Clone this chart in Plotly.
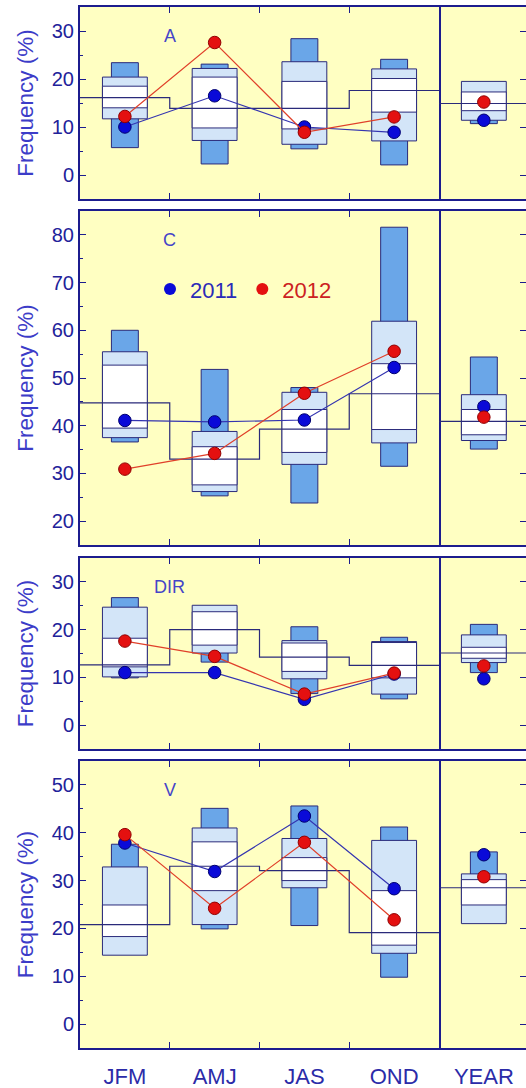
import plotly.graph_objects as go

# ---------------- DATA ----------------
seasons = ["JFM", "AMJ", "JAS", "OND"]
year_label = ["YEAR"]
panel_names = ["A", "C", "DIR", "V"]
years = ["2011", "2012"]

# order in each list: JFM, AMJ, JAS, OND, YEAR
A_outer_lo = [5.7, 2.3, 5.45, 2.1, 10.7]
A_outer_hi = [23.4, 23.1, 28.4, 24.1, 19.0]
A_mid_lo = [11.7, 7.2, 6.4, 7.1, 11.4]
A_mid_hi = [20.4, 22.2, 23.6, 22.1, 19.5]
A_inner_lo = [14.0, 9.8, 9.6, 13.1, 13.4]
A_inner_hi = [18.5, 20.4, 19.5, 20.1, 17.3]
A_mean = [16.1, 13.9, 13.9, 17.6, 14.9]
A_2011 = [10.0, 16.5, 10.0, 8.9, 11.4]
A_2012 = [12.2, 27.6, 8.9, 12.1, 15.2]

C_outer_lo = [36.6, 25.3, 23.8, 31.5, 35.1]
C_outer_hi = [60.0, 51.8, 48.0, 81.6, 54.4]
C_mid_lo = [37.5, 26.2, 31.9, 36.4, 36.9]
C_mid_hi = [55.5, 38.8, 47.0, 61.9, 46.5]
C_inner_lo = [39.5, 27.6, 34.4, 39.2, 38.1]
C_inner_hi = [52.7, 35.6, 43.4, 53.0, 43.4]
C_mean = [44.8, 33.0, 39.3, 46.7, 40.9]
C_2011 = [41.1, 40.8, 41.2, 52.2, 44.0]
C_2012 = [30.9, 34.2, 46.8, 55.6, 41.8]

DIR_outer_lo = [9.9, 13.2, 6.6, 5.5, 11.0]
DIR_outer_hi = [26.7, 24.0, 20.6, 18.4, 21.1]
DIR_mid_lo = [10.1, 15.1, 9.7, 6.5, 13.1]
DIR_mid_hi = [24.7, 25.1, 17.7, 17.5, 18.9]
DIR_inner_lo = [12.2, 16.75, 11.25, 9.9, 14.0]
DIR_inner_hi = [18.2, 23.75, 17.2, 17.3, 16.3]
DIR_mean = [12.6, 20.0, 14.25, 12.5, 15.1]
DIR_2011 = [11.0, 11.0, 5.4, 10.7, 9.7]
DIR_2012 = [17.6, 14.4, 6.5, 10.9, 12.4]

V_outer_lo = [15.0, 19.9, 20.6, 9.8, 22.0]
V_outer_hi = [37.6, 45.1, 45.6, 41.2, 36.0]
V_mid_lo = [14.4, 20.8, 28.5, 14.8, 21.0]
V_mid_hi = [32.85, 41.0, 38.8, 38.4, 31.4]
V_inner_lo = [18.3, 27.9, 30.0, 16.5, 24.9]
V_inner_hi = [24.9, 38.1, 34.8, 27.9, 30.2]
V_mean = [20.8, 33.0, 32.1, 19.1, 28.5]
V_2011 = [37.85, 31.9, 43.5, 28.3, 35.4]
V_2012 = [39.6, 24.2, 38.0, 21.8, 30.8]

y_ranges = [[-5, 35], [15, 85], [-5, 35], [-5, 55]]

# ---------------- STYLE ----------------
FONT = "Liberation Sans, Arial, sans-serif"
NAVY = "#1c1c8e"
EDGE = "#2a2a7a"
BG = "#ffffc2"
DARK = "#6aa6e8"
LIGHT = "#d3e5f8"
WHITE = "#ffffff"
BLUE = "#0a0ad8"
RED = "#e41010"
BLUE_LINE = "#3434b0"
RED_LINE = "#e0402a"
TICK_COL = "#22229a"
TITLE_COL = "#3c3cc8"

panels = {
    "A": (A_outer_lo, A_outer_hi, A_mid_lo, A_mid_hi, A_inner_lo, A_inner_hi, A_mean, A_2011, A_2012),
    "C": (C_outer_lo, C_outer_hi, C_mid_lo, C_mid_hi, C_inner_lo, C_inner_hi, C_mean, C_2011, C_2012),
    "DIR": (DIR_outer_lo, DIR_outer_hi, DIR_mid_lo, DIR_mid_hi, DIR_inner_lo, DIR_inner_hi, DIR_mean, DIR_2011, DIR_2012),
    "V": (V_outer_lo, V_outer_hi, V_mid_lo, V_mid_hi, V_inner_lo, V_inner_hi, V_mean, V_2011, V_2012),
}

W, H = 526, 1088
ML, MR, MT, MB = 80, 0, 7, 40
PH = H - MT - MB
PW = W - ML - MR
row_px = [(7, 199), (211, 545), (558, 749), (761, 1048)]
split = 359 / PW

fig = go.Figure()
layout = dict(
    width=W, height=H, margin=dict(l=ML, r=MR, t=MT, b=MB),
    paper_bgcolor="white", plot_bgcolor=BG, barmode="overlay",
    font=dict(family=FONT, color=TICK_COL), hovermode=False,
    showlegend=True,
    legend=dict(orientation="h", x=(150 - ML) / PW, y=(H - MB - 289.3) / PH,
                xanchor="left", yanchor="middle", bgcolor="rgba(0,0,0,0)",
                font=dict(size=22, family=FONT), tracegroupgap=0),
)
annotations = []

n_seas = len(seasons)
for i, name in enumerate(panel_names):
    olo, ohi, mlo, mhi, ilo, ihi, mean, y11, y12 = panels[name]
    top, bot = row_px[i]
    ydom = [(H - MB - bot) / PH, (H - MB - top) / PH]
    kl, kr = 2 * i + 1, 2 * i + 2
    xl = "x" if kl == 1 else f"x{kl}"
    yl = "y" if kl == 1 else f"y{kl}"
    xr, yr = f"x{kr}", f"y{kr}"
    last = i == len(panel_names) - 1

    for side, xa, ya, sl, cats in (("L", xl, yl, slice(0, n_seas), seasons),
                                   ("R", xr, yr, slice(n_seas, n_seas + 1), year_label)):
        xs = list(range(1, len(cats) + 1))
        for lo, hi, w, col in ((olo, ohi, 0.3, DARK), (mlo, mhi, 0.5, LIGHT), (ilo, ihi, 0.5, WHITE)):
            l_, h_ = lo[sl], hi[sl]
            fig.add_trace(go.Bar(x=xs, y=[b - a for a, b in zip(l_, h_)], base=l_, width=w,
                                 marker=dict(color=col, line=dict(color=EDGE, width=1)),
                                 xaxis=xa, yaxis=ya, showlegend=False))
        if side == "L":
            sx = [x - 0.5 for x in xs] + [xs[-1] + 0.5]
            sy = mean[sl] + [mean[sl][-1]]
            fig.add_trace(go.Scatter(x=sx, y=sy, mode="lines",
                                     line=dict(shape="hv", color=EDGE, width=1.2),
                                     xaxis=xa, yaxis=ya, showlegend=False))
            mode = "lines+markers"
        else:
            fig.add_trace(go.Scatter(x=[0.5, 1.5], y=[mean[sl][0]] * 2, mode="lines",
                                     line=dict(color=EDGE, width=1.2),
                                     xaxis=xa, yaxis=ya, showlegend=False))
            mode = "markers"
        for vals, mc, lc, ec in ((y11, BLUE, BLUE_LINE, "#000070"), (y12, RED, RED_LINE, "#900000")):
            fig.add_trace(go.Scatter(x=xs, y=vals[sl], mode=mode,
                                     line=dict(color=lc, width=1.2),
                                     marker=dict(size=12.5, color=mc, line=dict(color=ec, width=1)),
                                     xaxis=xa, yaxis=ya, showlegend=False))

    if name == "C":
        for yname, mc, tc in ((years[0], BLUE, "#2b2bb8"), (years[1], RED, "#cc2222")):
            fig.add_trace(go.Scatter(x=[None], y=[None], mode="markers",
                                     marker=dict(size=12, color=mc),
                                     name=f"<span style='color:{tc}'>{yname}</span>",
                                     xaxis=xl, yaxis=yl, showlegend=True))

    common_y = dict(range=y_ranges[i], dtick=10, tick0=0, showgrid=False, zeroline=False)
    layout["xaxis" if kl == 1 else f"xaxis{kl}"] = dict(
        domain=[0, split], anchor=yl, range=[0.5, n_seas + 0.5],
        showline=True, linewidth=2, linecolor=NAVY, mirror="allticks",
        tickvals=list(range(1, n_seas + 1)), ticktext=seasons, ticks="",
        showticklabels=last, tickfont=dict(size=22, color="#2b2ba8"),
        ticklabelstandoff=8,
        minor=dict(tickvals=[k + 0.5 for k in range(1, n_seas)], ticks="inside",
                   ticklen=6, tickcolor=NAVY, tickwidth=1),
        showgrid=False, zeroline=False)
    layout["yaxis" if kl == 1 else f"yaxis{kl}"] = dict(
        domain=ydom, anchor=xl, **common_y,
        showline=True, linewidth=2, linecolor=NAVY, mirror=True,
        ticks="inside", ticklen=6, tickwidth=1, tickcolor=NAVY,
        minor=dict(dtick=5, ticks="inside", ticklen=3, tickcolor=NAVY),
        tickfont=dict(size=20, color=TICK_COL),
        title=dict(text="Frequency (%)", font=dict(size=22.5, color=TITLE_COL), standoff=12))
    layout[f"xaxis{kr}"] = dict(
        domain=[split, 1], anchor=yr, range=[0.5, 1.47],
        showline=True, linewidth=2, linecolor=NAVY, mirror=True,
        tickvals=[1], ticktext=year_label, ticks="", showticklabels=last,
        ticklabelstandoff=8,
        tickfont=dict(size=22, color="#2b2ba8"), showgrid=False, zeroline=False)
    layout[f"yaxis{kr}"] = dict(
        domain=ydom, anchor=xr, side="right", **common_y,
        showline=False, ticks="inside", ticklen=6, tickwidth=1, tickcolor=NAVY,
        showticklabels=False)

    annotations.append(dict(text=name, x=1.5, xref=xl, y=1, yref=f"{yl} domain",
                            yshift=-28.5, yanchor="middle", showarrow=False,
                            font=dict(size=18, color="#4545c8", family=FONT)))

layout["annotations"] = annotations
fig.update_layout(**layout)
fig.write_html("out.html", config={"displayModeBar": False, "staticPlot": True},
               post_script="document.body.style.margin='0';document.body.style.overflow='hidden';")
